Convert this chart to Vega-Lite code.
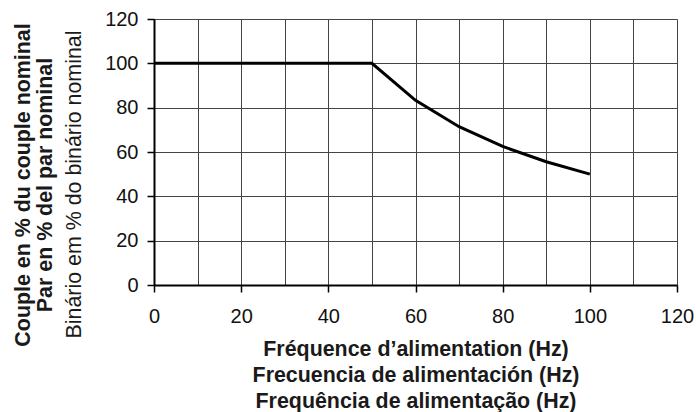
{
  "$schema": "https://vega.github.io/schema/vega-lite/v6.json",
  "width": 523,
  "height": 266,
  "autosize": {"type": "none"},
  "padding": {"left": 154, "top": 19, "right": 19, "bottom": 127},
  "background": "white",
  "title": {
    "text": ["Couple en % du couple nominal", "Par en % del par nominal"],
    "orient": "left",
    "anchor": "middle",
    "frame": "group",
    "font": "Liberation Sans",
    "fontSize": 21.4,
    "fontWeight": "bold",
    "color": "#1a1a1a",
    "lineHeight": 22,
    "offset": 4,
    "dx": -33,
    "dy": -3
  },
  "data": {
    "values": [
      {"freq": 0, "torque": 100},
      {"freq": 50, "torque": 100},
      {"freq": 60, "torque": 83.3},
      {"freq": 70, "torque": 71.4},
      {"freq": 80, "torque": 62.5},
      {"freq": 90, "torque": 55.6},
      {"freq": 100, "torque": 50}
    ]
  },
  "mark": {"type": "line", "color": "black", "strokeWidth": 3, "strokeJoin": "miter"},
  "encoding": {
    "x": {
      "field": "freq",
      "type": "quantitative",
      "scale": {"domain": [0, 120], "nice": false, "zero": false},
      "axis": {
        "values": [0, 10, 20, 30, 40, 50, 60, 70, 80, 90, 100, 110, 120],
        "labelExpr": "datum.value % 20 === 0 ? datum.label : ''",
        "title": ["Fréquence d’alimentation (Hz)", "Frecuencia de alimentación (Hz)", "Frequência de alimentação (Hz)"],
        "titleFont": "Liberation Sans",
        "titleFontSize": 21.4,
        "titleFontWeight": "bold",
        "titleColor": "#1a1a1a",
        "titleLineHeight": 26,
        "titleBaseline": "alphabetic",
        "titleAnchor": "middle",
        "titleY": 70.5,
        "labelFont": "Liberation Sans",
        "labelFontSize": 20,
        "labelColor": "#111",
        "labelPadding": 14,
        "labelFlush": false,
        "labelOverlap": false,
        "tickSize": 7,
        "tickWidth": 1.5,
        "tickColor": "black",
        "tickOpacity": {"condition": {"test": "datum.value % 20 !== 0", "value": 0}, "value": 1},
        "domainColor": "black",
        "domainWidth": 2,
        "grid": true,
        "gridColor": "#444",
        "gridWidth": 1,
        "gridOpacity": 1
      }
    },
    "y": {
      "field": "torque",
      "type": "quantitative",
      "scale": {"domain": [0, 120], "nice": false, "zero": true},
      "axis": {
        "values": [0, 20, 40, 60, 80, 100, 120],
        "title": "Binário em % do binário nominal",
        "titleFont": "Liberation Sans",
        "titleFontSize": 21.4,
        "titleFontWeight": "normal",
        "titleColor": "#1a1a1a",
        "titleAngle": -90,
        "titleAlign": "center",
        "titleBaseline": "alphabetic",
        "titleX": -74,
        "titleY": 165,
        "labelFont": "Liberation Sans",
        "labelFontSize": 20,
        "labelColor": "#111",
        "labelPadding": 9,
        "tickSize": 7,
        "tickWidth": 1.5,
        "tickColor": "black",
        "domainColor": "black",
        "domainWidth": 2,
        "grid": true,
        "gridColor": "#444",
        "gridWidth": 1,
        "gridOpacity": 1
      }
    }
  },
  "config": {
    "view": {"stroke": null},
    "font": "Liberation Sans"
  }
}
